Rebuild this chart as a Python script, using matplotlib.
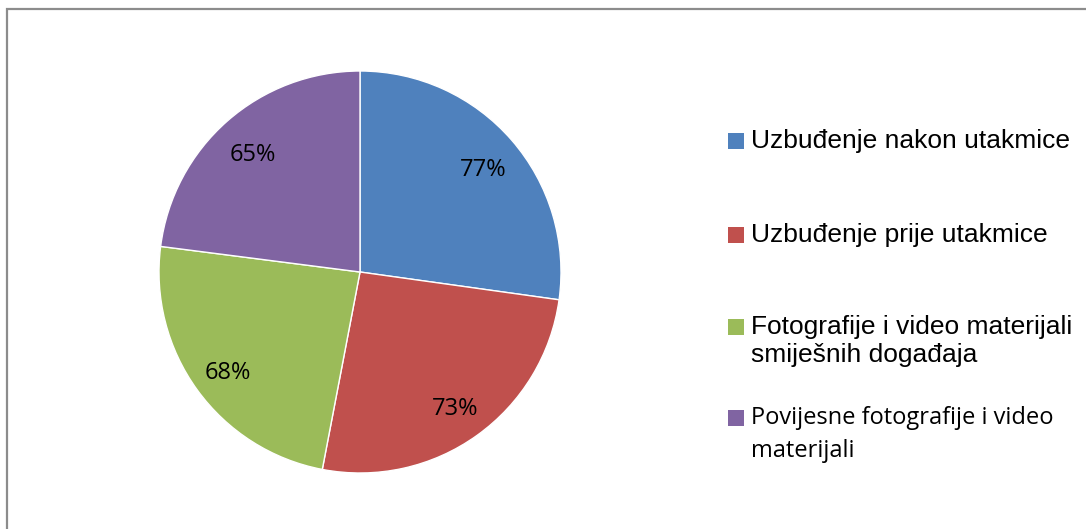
import matplotlib.pyplot as plt
from matplotlib.patches import Rectangle

categories = ["Uzbuđenje nakon utakmice", "Uzbuđenje prije utakmice",
              "Fotografije i video materijali\nsmiješnih događaja",
              "Povijesne fotografije i video\nmaterijali"]
values = [77, 73, 68, 65]
colors = ["#4F81BD", "#C0504D", "#9BBB59", "#8064A2"]
label_fonts = ["Liberation Sans", "Liberation Sans", "Liberation Sans", "Open Sans"]
label_sizes = [19, 19, 19, 17]

W, H = 1086, 529
fig = plt.figure(figsize=(W / 100, H / 100), dpi=100)

# outer chart border (only left and top visible)
fig.patches.append(Rectangle((7 / W, -0.1), 1.2, (H - 9) / H + 0.1, transform=fig.transFigure,
                             fill=False, edgecolor="#8c8c8c", linewidth=1.6))

cx, cy, r = 360, 272, 201
ax = fig.add_axes([(cx - r) / W, (H - cy - r) / H, 2 * r / W, 2 * r / H])
total = sum(values)
wedges, texts, autotexts = ax.pie(values, colors=colors, startangle=90, counterclock=False,
                                  autopct=lambda p: "%d%%" % round(p * total / 100),
                                  pctdistance=0.81,
                                  wedgeprops=dict(edgecolor="white", linewidth=1))
for t in autotexts:
    t.set_fontsize(17)
    t.set_family("Open Sans")
    t.set_color("black")
    x, y = t.get_position()
    t.set_position((x, y - 0.025))
ax.set_xlim(-1, 1)
ax.set_ylim(-1, 1)

# legend, one line at a time
line_ys = [[141], [235], [327, 355], [418, 451]]
for lab, col, ys, fnt, fs in zip(categories, colors, line_ys, label_fonts, label_sizes):
    fig.patches.append(Rectangle((728 / W, (H - ys[0] - 8) / H), 16 / W, 16 / H,
                                 transform=fig.transFigure, facecolor=col, edgecolor="none"))
    for line, y in zip(lab.split("\n"), ys):
        fig.text(751 / W, (H - y) / H, line, ha="left", va="center", fontsize=fs, family=fnt)

fig.savefig("out.png", dpi=100)
